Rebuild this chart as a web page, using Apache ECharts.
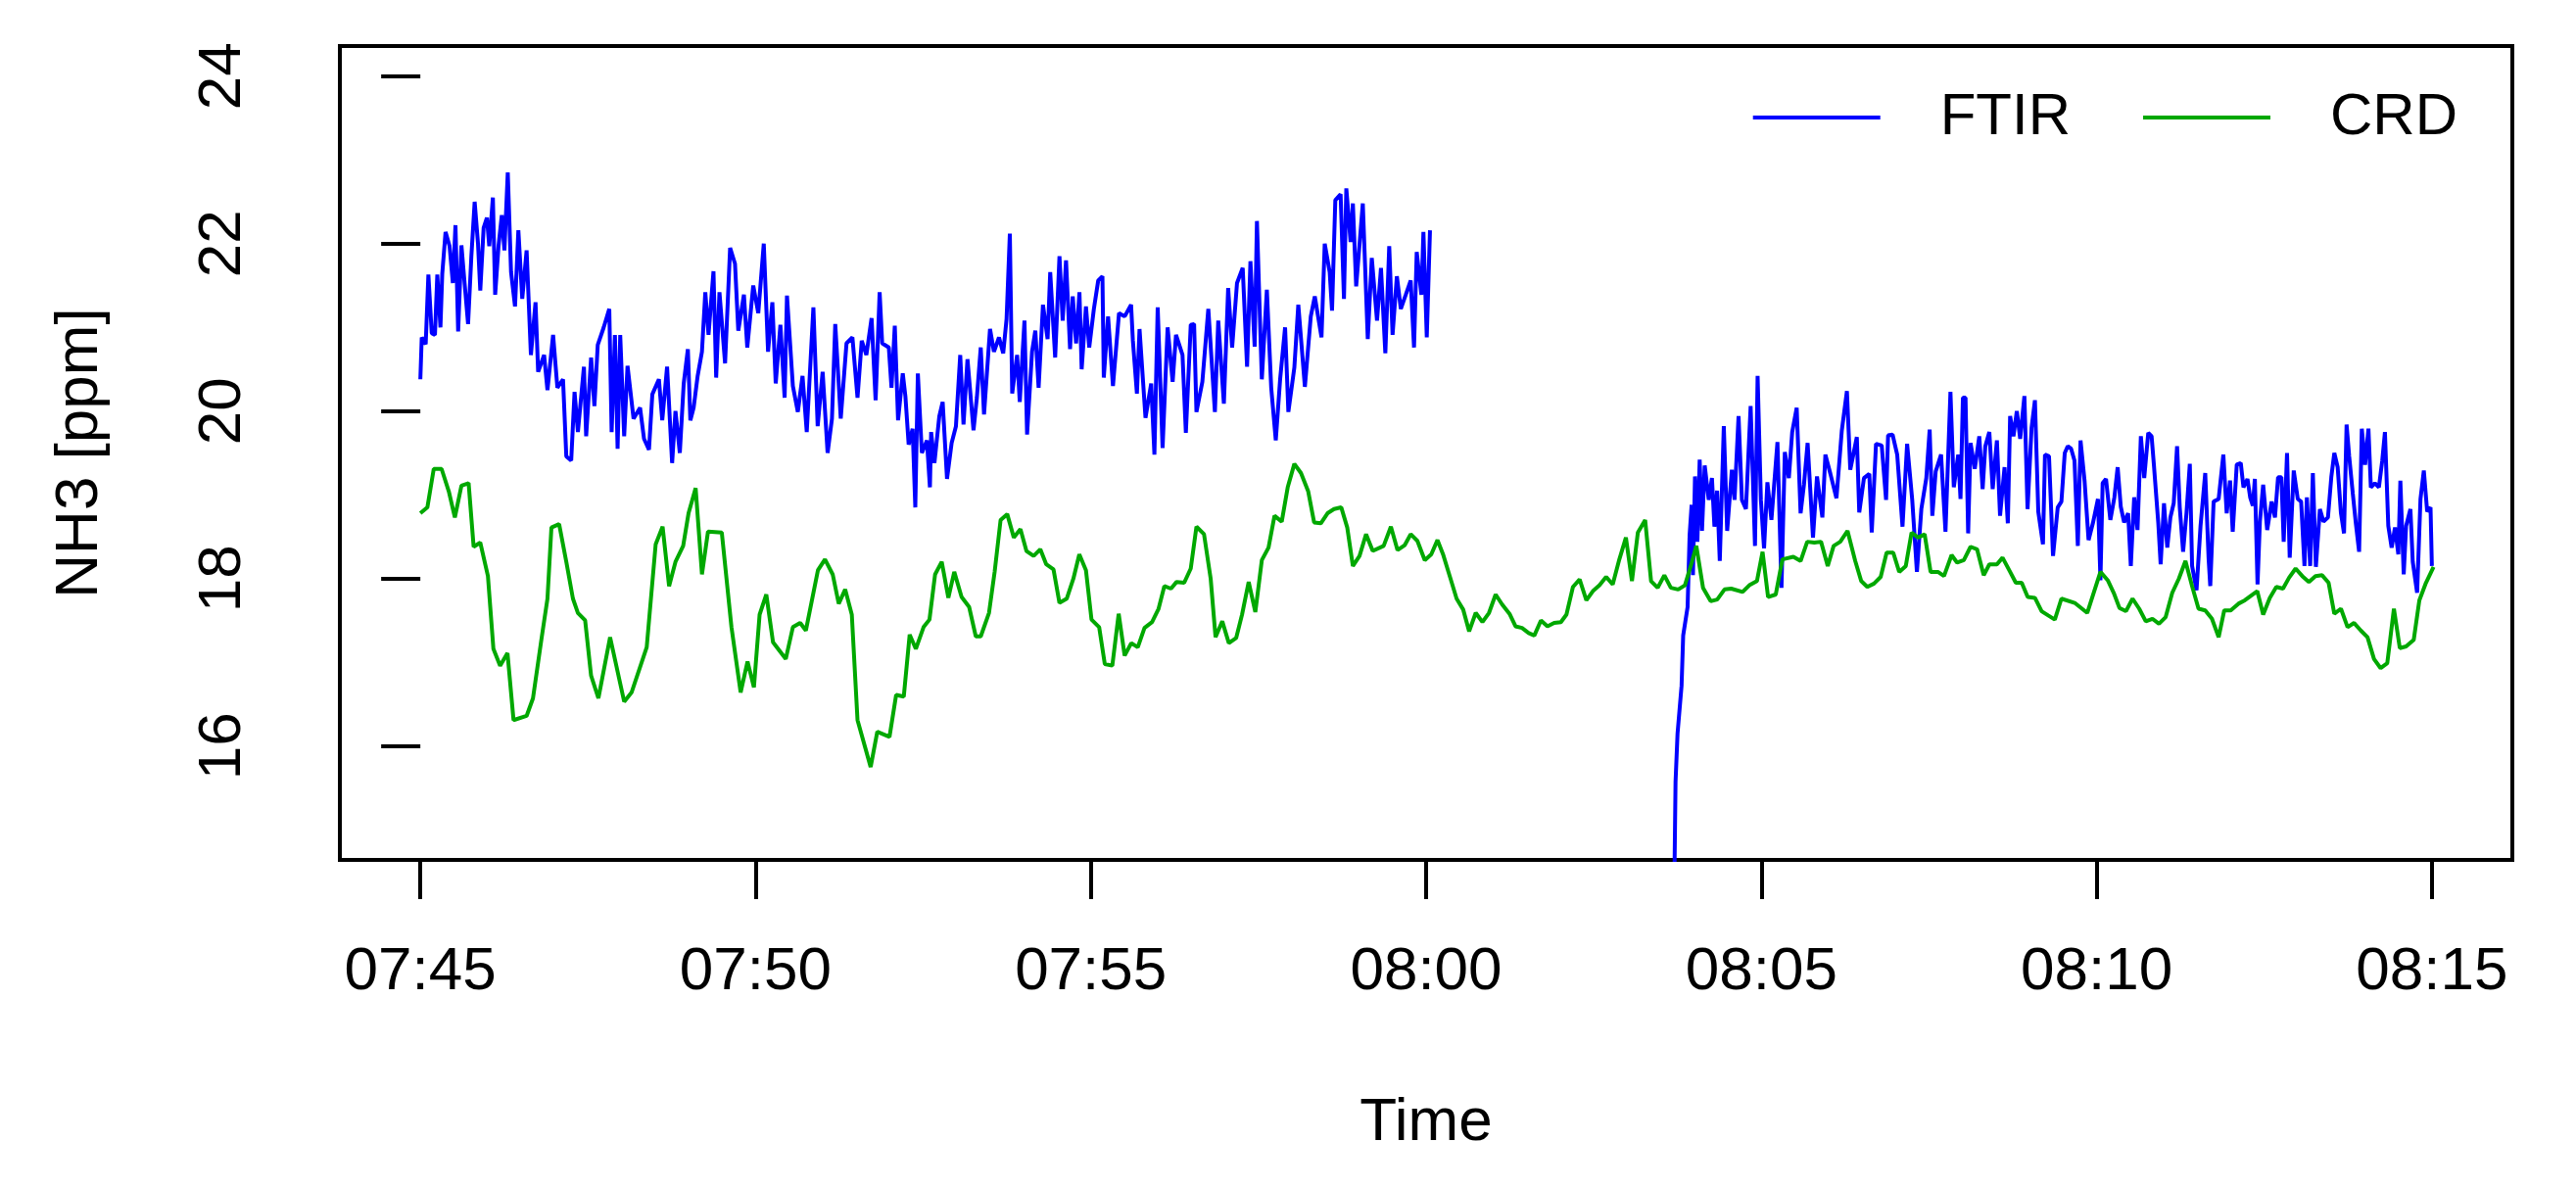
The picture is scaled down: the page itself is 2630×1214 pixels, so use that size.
<!DOCTYPE html>
<html>
<head>
<meta charset="utf-8">
<script src="https://cdn.jsdelivr.net/npm/echarts@6/dist/echarts.min.js"></script>
<style>
  html, body { margin: 0; padding: 0; background: #fff; }
  #main { width: 2630px; height: 1214px; }
</style>
</head>
<body>
<div id="main"></div>
<script>
// time in minutes after 07:45
var xTicks = [0, 5, 10, 15, 20, 25, 30];
var yTicks = [16, 18, 20, 22, 24];

var crdTime = [0,0.105,0.2,0.317,0.425,0.515,0.613,0.72,0.795,0.894,1.008,1.09,1.19,1.3,1.39,1.585,1.68,1.807,1.896,1.955,2.07,2.177,2.276,2.35,2.458,2.547,2.656,2.83,3.04,3.15,3.376,3.51,3.613,3.71,3.805,3.92,4.0,4.106,4.2,4.29,4.496,4.64,4.777,4.88,4.975,5.06,5.16,5.26,5.45,5.556,5.665,5.75,5.93,6.035,6.15,6.24,6.336,6.435,6.52,6.716,6.815,6.997,7.096,7.21,7.298,7.39,7.505,7.593,7.677,7.776,7.875,7.963,8.072,8.185,8.284,8.358,8.481,8.565,8.654,8.753,8.851,8.95,9.039,9.147,9.246,9.335,9.443,9.532,9.64,9.74,9.828,9.927,10.01,10.124,10.208,10.32,10.415,10.504,10.603,10.7,10.8,10.913,11.01,11.096,11.195,11.279,11.392,11.49,11.575,11.688,11.787,11.86,11.96,12.058,12.167,12.255,12.354,12.453,12.55,12.65,12.739,12.847,12.936,13.035,13.134,13.242,13.33,13.43,13.53,13.627,13.735,13.824,13.908,14.007,14.105,14.204,14.367,14.475,14.574,14.682,14.77,14.87,14.98,15.077,15.17,15.257,15.356,15.455,15.553,15.642,15.74,15.84,15.938,16.037,16.135,16.244,16.333,16.43,16.53,16.614,16.713,16.81,16.91,17.01,17.093,17.19,17.29,17.39,17.487,17.586,17.685,17.783,17.882,17.98,18.07,18.158,18.267,18.355,18.454,18.553,18.65,18.76,18.86,18.947,19.03,19.13,19.244,19.342,19.45,19.55,19.72,19.82,19.934,20.018,20.1,20.215,20.314,20.477,20.585,20.684,20.79,20.89,20.99,21.078,21.177,21.285,21.4,21.49,21.58,21.68,21.78,21.868,21.967,22.056,22.154,22.24,22.337,22.435,22.524,22.633,22.724,22.837,22.92,23.02,23.12,23.217,23.316,23.4,23.513,23.597,23.71,23.795,23.883,23.972,24.08,24.18,24.278,24.377,24.475,24.673,24.86,25.057,25.166,25.255,25.34,25.437,25.536,25.635,25.733,25.832,25.93,26.03,26.128,26.227,26.325,26.424,26.52,26.62,26.72,26.82,26.903,27.0,27.115,27.21,27.31,27.396,27.484,27.583,27.68,27.78,27.87,27.968,28.067,28.166,28.264,28.363,28.46,28.545,28.644,28.743,28.84,28.94,29.04,29.137,29.236,29.335,29.434,29.522,29.616,29.73,29.813,29.912,30.025];
var crdValue = [18.78,18.85,19.31,19.31,19.04,18.73,19.11,19.14,18.38,18.43,18.03,17.16,16.96,17.11,16.31,16.36,16.57,17.28,17.76,18.61,18.65,18.2,17.76,17.59,17.5,16.84,16.57,17.3,16.53,16.64,17.18,18.41,18.62,17.91,18.2,18.39,18.78,19.08,18.05,18.56,18.55,17.42,16.64,17.01,16.7,17.57,17.81,17.24,17.04,17.42,17.47,17.38,18.1,18.23,18.05,17.7,17.87,17.57,16.31,15.75,16.17,16.11,16.61,16.59,17.33,17.16,17.42,17.51,18.05,18.2,17.77,18.08,17.78,17.66,17.31,17.31,17.59,18.08,18.7,18.77,18.49,18.59,18.33,18.27,18.35,18.17,18.11,17.71,17.76,18.0,18.29,18.1,17.51,17.42,16.98,16.96,17.58,17.08,17.23,17.18,17.41,17.48,17.64,17.91,17.88,17.96,17.95,18.12,18.62,18.53,18.0,17.3,17.49,17.23,17.29,17.57,17.96,17.6,18.22,18.37,18.75,18.68,19.09,19.37,19.26,19.04,18.67,18.66,18.78,18.83,18.85,18.61,18.15,18.27,18.53,18.33,18.39,18.62,18.34,18.4,18.53,18.45,18.22,18.29,18.46,18.28,18.02,17.76,17.63,17.37,17.59,17.48,17.59,17.81,17.69,17.58,17.43,17.41,17.35,17.32,17.5,17.43,17.47,17.48,17.57,17.9,17.99,17.74,17.85,17.92,18.02,17.93,18.23,18.49,17.97,18.55,18.7,17.97,17.89,18.04,17.89,17.87,17.92,18.15,18.39,17.89,17.73,17.75,17.87,17.88,17.84,17.92,17.97,18.32,17.78,17.81,18.23,18.26,18.21,18.44,18.43,18.44,18.15,18.39,18.44,18.57,18.21,17.97,17.9,17.94,18.02,18.31,18.31,18.08,18.15,18.55,18.49,18.53,18.08,18.08,18.03,18.28,18.19,18.22,18.38,18.35,18.04,18.17,18.17,18.25,18.08,17.95,17.95,17.78,17.77,17.61,17.56,17.51,17.76,17.71,17.59,18.08,17.98,17.83,17.65,17.61,17.76,17.64,17.49,17.52,17.46,17.54,17.83,18.0,18.21,17.91,17.64,17.62,17.52,17.3,17.62,17.62,17.7,17.74,17.8,17.85,17.57,17.77,17.9,17.88,18.01,18.12,18.03,17.96,18.03,18.04,17.95,17.58,17.64,17.42,17.47,17.38,17.3,17.04,16.93,16.99,17.64,17.17,17.19,17.27,17.74,17.95,18.14];

// FTIR: two segments, null marks the gap
var ftirTime = [0,0.021,0.08,0.12,0.17,0.218,0.253,0.3,0.327,0.376,0.436,0.485,0.524,0.564,0.613,0.662,0.712,0.761,0.81,0.86,0.894,0.944,0.993,1.028,1.082,1.116,1.166,1.215,1.254,1.304,1.353,1.412,1.462,1.52,1.585,1.649,1.718,1.757,1.846,1.896,1.98,2.044,2.128,2.177,2.25,2.3,2.35,2.44,2.473,2.547,2.596,2.646,2.735,2.818,2.853,2.902,2.942,2.981,3.04,3.09,3.18,3.277,3.336,3.41,3.46,3.558,3.608,3.68,3.755,3.805,3.87,3.928,3.99,4.027,4.076,4.136,4.2,4.25,4.298,4.372,4.412,4.461,4.545,4.62,4.693,4.742,4.826,4.876,4.965,5.04,5.122,5.186,5.25,5.3,5.37,5.433,5.468,5.556,5.63,5.7,5.763,5.862,5.926,6.0,6.074,6.139,6.188,6.27,6.356,6.444,6.52,6.583,6.652,6.73,6.79,6.85,6.888,6.987,7.027,7.076,7.125,7.195,7.234,7.283,7.342,7.382,7.42,7.48,7.555,7.6,7.618,7.667,7.74,7.79,7.855,7.924,7.988,8.052,8.101,8.16,8.25,8.3,8.358,8.407,8.496,8.555,8.63,8.693,8.743,8.792,8.827,8.9,8.94,9.01,9.049,9.123,9.172,9.221,9.286,9.355,9.394,9.468,9.532,9.58,9.63,9.69,9.73,9.78,9.83,9.863,9.927,9.976,10.045,10.11,10.173,10.193,10.257,10.33,10.42,10.504,10.6,10.627,10.687,10.726,10.815,10.9,10.948,10.997,11.07,11.145,11.22,11.27,11.367,11.417,11.49,11.54,11.575,11.663,11.752,11.85,11.9,11.984,12.048,12.107,12.18,12.265,12.33,12.38,12.443,12.477,12.55,12.625,12.69,12.758,12.823,12.897,12.946,13.035,13.094,13.192,13.28,13.34,13.44,13.488,13.562,13.597,13.646,13.725,13.775,13.81,13.874,13.908,13.957,14.056,14.13,14.19,14.268,14.327,14.392,14.45,14.5,14.564,14.623,14.697,14.77,14.82,14.86,14.93,14.96,15.01,15.058,
  16.9,
  18.7,18.72,18.75,18.81,18.834,18.9,18.93,18.96,18.98,19.01,19.046,19.08,19.115,19.155,19.215,19.263,19.3,19.34,19.38,19.44,19.49,19.56,19.6,19.66,19.71,19.77,19.84,19.905,19.944,19.993,20.04,20.09,20.15,20.24,20.3,20.35,20.41,20.46,20.527,20.585,20.635,20.69,20.77,20.83,20.91,20.955,21.03,21.12,21.2,21.276,21.326,21.424,21.46,21.53,21.61,21.646,21.71,21.795,21.86,21.89,21.957,22.026,22.105,22.174,22.25,22.32,22.386,22.46,22.51,22.55,22.6,22.68,22.746,22.82,22.87,22.936,22.97,23.006,23.045,23.084,23.12,23.183,23.25,23.3,23.34,23.4,23.45,23.513,23.56,23.627,23.676,23.71,23.76,23.81,23.86,23.923,23.97,24.03,24.08,24.13,24.2,24.23,24.29,24.35,24.42,24.475,24.525,24.57,24.62,24.67,24.72,24.76,24.82,24.88,24.944,25.02,25.057,25.09,25.14,25.205,25.265,25.314,25.36,25.41,25.47,25.51,25.56,25.61,25.66,25.71,25.77,25.82,25.857,25.92,25.955,26.005,26.054,26.1,26.15,26.2,26.24,26.29,26.34,26.39,26.424,26.49,26.55,26.62,26.67,26.695,26.745,26.82,26.89,26.94,26.99,27.03,27.09,27.15,27.19,27.25,27.29,27.33,27.36,27.4,27.435,27.484,27.544,27.61,27.66,27.706,27.756,27.79,27.84,27.88,27.94,28.0,28.05,28.1,28.136,28.185,28.225,28.27,28.33,28.383,28.45,28.5,28.545,28.595,28.644,28.69,28.728,28.767,28.82,28.866,28.915,28.955,29.004,29.054,29.09,29.15,29.21,29.26,29.3,29.35,29.4,29.45,29.5,29.53,29.58,29.616,29.68,29.715,29.78,29.83,29.88,29.93,29.98,30.0];
var ftirValue = [20.38,20.88,20.8,21.63,20.93,20.91,21.63,21.0,21.64,22.14,21.97,21.53,22.22,20.95,21.98,21.51,21.04,21.85,22.5,22.0,21.44,22.19,22.31,21.97,22.55,21.39,21.97,22.34,21.92,22.85,21.66,21.25,22.16,21.34,21.92,20.67,21.3,20.47,20.67,20.25,20.91,20.28,20.38,19.46,19.41,20.23,19.75,20.53,19.7,20.64,20.06,20.79,21.0,21.22,19.75,20.91,19.55,20.91,19.7,20.54,19.91,20.04,19.67,19.54,20.2,20.38,19.89,20.53,19.38,20.0,19.5,20.33,20.74,19.89,20.04,20.42,20.71,21.42,20.91,21.67,20.4,21.42,20.57,21.95,21.76,20.96,21.39,20.76,21.5,21.17,22.0,20.71,21.3,20.33,21.03,20.16,21.38,20.3,19.99,20.42,19.75,21.24,19.82,20.47,19.5,19.91,21.04,19.91,20.81,20.88,20.16,20.84,20.67,21.11,20.13,21.42,20.81,20.76,20.28,21.02,19.89,20.45,20.18,19.6,19.79,18.85,20.45,19.5,19.65,19.09,19.75,19.38,19.94,20.11,19.19,19.62,19.82,20.67,19.84,20.62,19.77,20.16,20.76,19.96,20.98,20.71,20.88,20.69,21.1,22.12,20.21,20.67,20.11,21.08,19.72,20.71,20.96,20.28,21.27,20.86,21.66,20.64,21.85,21.08,21.8,20.74,21.37,20.81,21.42,20.5,21.25,20.76,21.22,21.56,21.61,20.4,21.13,20.3,21.17,21.13,21.27,20.84,20.21,20.98,19.92,20.33,19.48,21.24,19.56,21.0,20.35,20.91,20.67,19.74,21.03,21.04,19.99,20.35,21.22,19.99,21.08,20.09,21.47,20.76,21.53,21.71,20.53,21.79,20.77,22.27,20.38,21.45,20.28,19.65,20.38,21.0,19.99,20.52,21.27,20.29,21.13,21.37,20.88,22.0,21.66,21.2,22.52,22.59,21.34,22.66,22.02,22.48,21.49,22.48,20.86,21.83,21.08,21.71,20.69,21.97,20.91,21.61,21.22,21.39,21.56,20.76,21.9,21.39,22.14,20.88,22.16,
  null,
  14.2,15.57,16.15,16.72,17.32,17.66,18.52,18.88,18.04,19.22,18.44,19.42,18.57,19.35,18.94,19.2,18.62,19.05,18.21,19.82,18.57,19.3,18.94,19.94,18.94,18.83,20.06,18.39,20.42,18.94,18.36,19.15,18.7,19.63,17.89,19.51,19.2,19.75,20.04,18.78,19.12,19.62,18.49,19.22,18.73,19.48,19.25,18.96,19.77,20.24,19.3,19.69,18.79,19.2,19.25,18.55,19.61,19.59,18.94,19.71,19.72,19.48,18.62,19.61,18.94,18.08,18.83,19.2,19.78,18.75,19.28,19.48,18.56,20.23,19.09,19.48,18.95,20.16,20.16,18.54,19.62,19.31,19.7,19.07,19.58,19.75,19.07,19.65,18.75,19.33,18.66,19.94,19.7,20.0,19.67,20.18,18.83,19.8,20.13,18.8,18.41,19.48,19.46,18.27,18.85,18.92,19.5,19.58,19.55,19.41,18.39,19.65,19.17,18.46,18.66,18.95,17.98,19.14,19.19,18.7,18.97,19.33,18.86,18.67,18.78,18.15,18.97,18.58,19.7,19.2,19.74,19.7,19.33,18.66,18.17,18.9,18.37,18.73,18.9,19.58,18.85,18.32,18.78,19.37,18.15,17.86,18.63,19.26,18.24,17.91,18.92,18.95,19.48,18.78,19.17,18.56,19.36,19.38,19.09,19.19,18.97,18.87,19.19,17.93,18.68,19.12,18.58,18.92,18.73,19.21,19.21,18.44,19.5,18.25,19.29,18.95,18.92,18.15,18.97,18.15,19.26,18.14,18.83,18.68,18.73,19.21,19.5,19.33,18.78,18.54,19.84,19.46,19.02,18.66,18.32,19.79,19.36,19.79,19.09,19.14,19.09,19.41,19.75,18.63,18.37,18.61,18.29,19.17,18.05,18.63,18.83,18.2,17.83,18.95,19.29,18.8,18.85,18.15];

function zip(t, v) {
  var out = [];
  for (var i = 0; i < t.length; i++) {
    out.push([t[i], v[i] === null ? null : v[i]]);
  }
  return out;
}

function clock(m) {
  var total = 7 * 60 + 45 + Math.round(m);
  var h = Math.floor(total / 60), mm = total % 60;
  return (h < 10 ? '0' : '') + h + ':' + (mm < 10 ? '0' : '') + mm;
}

var font = 'Liberation Sans, Arial, sans-serif';
var chart = echarts.init(document.getElementById('main'));
chart.setOption({
  animation: false,
  backgroundColor: '#fff',
  grid: {
    left: 347, right: 65, top: 47, bottom: 336,
    show: true, borderColor: '#000', borderWidth: 4, backgroundColor: 'transparent'
  },
  legend: {
    right: 121, top: 90, padding: 0,
    icon: 'rect', itemWidth: 130, itemHeight: 4, itemGap: 74,
    textStyle: { fontFamily: font, fontSize: 60, color: '#000', padding: [0, 0, 0, 56] },
    data: ['FTIR', 'CRD']
  },
  xAxis: {
    type: 'value', min: -1.2, max: 31.2,
    name: 'Time', nameLocation: 'middle', nameGap: 238,
    nameTextStyle: { fontFamily: font, fontSize: 62, color: '#000' },
    axisLine: { show: false },
    splitLine: { show: false },
    axisTick: { show: true, length: 40, customValues: xTicks, lineStyle: { color: '#000', width: 4 } },
    axisLabel: { customValues: xTicks, formatter: clock, margin: 84, fontFamily: font, fontSize: 62, color: '#000' }
  },
  yAxis: {
    type: 'value', min: 14.64, max: 24.36,
    name: 'NH3 [ppm]', nameLocation: 'middle', nameGap: 234,
    nameTextStyle: { fontFamily: font, fontSize: 62, color: '#000' },
    axisLine: { show: false },
    splitLine: { show: false },
    axisTick: { show: true, length: 40, customValues: yTicks, lineStyle: { color: '#000', width: 4 } },
    axisLabel: { customValues: yTicks, rotate: 90, margin: 88, fontFamily: font, fontSize: 62, color: '#000' }
  },
  series: [
    {
      name: 'FTIR', type: 'line', data: zip(ftirTime, ftirValue),
      showSymbol: false, symbol: 'none', connectNulls: false,
      lineStyle: { color: '#0000FF', width: 4 }, itemStyle: { color: '#0000FF' }
    },
    {
      name: 'CRD', type: 'line', data: zip(crdTime, crdValue),
      showSymbol: false, symbol: 'none',
      lineStyle: { color: '#00A800', width: 4 }, itemStyle: { color: '#00A800' }
    }
  ]
});
</script>
</body>
</html>
